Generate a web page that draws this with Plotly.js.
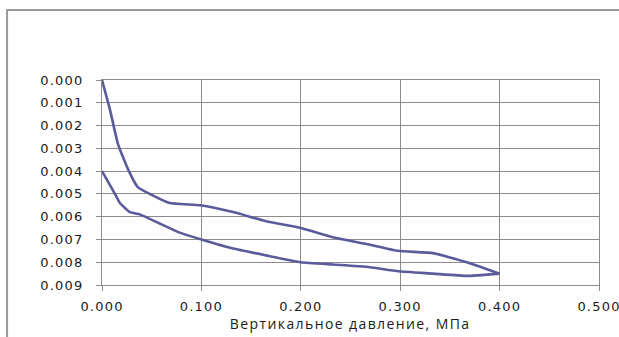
<!DOCTYPE html>
<html>
<head>
<meta charset="utf-8">
<script src="https://cdn.plot.ly/plotly-3.0.1.min.js"></script>
<style>
html,body{margin:0;padding:0;background:#fff;}
#chart{width:619px;height:337px;}
#chart .xtick text, #chart .ytick text{letter-spacing:1.2px;}
#chart .annotation-text{letter-spacing:1.4px;}
</style>
</head>
<body>
<div id="chart"></div>
<script>
// Loading branch: pressure (MPa) vs settlement
const loadPressure = [0.000, 0.008, 0.016, 0.026, 0.036, 0.048, 0.068, 0.099, 0.132, 0.165, 0.200, 0.232, 0.266, 0.298, 0.333, 0.367, 0.400];
const loadStrain   = [0.0000, 0.0013, 0.0028, 0.0039, 0.0047, 0.0050, 0.0054, 0.0055, 0.0058, 0.0062, 0.0065, 0.0069, 0.0072, 0.0075, 0.0076, 0.0080, 0.0085];
// Unloading branch
const unloadPressure = [0.400, 0.367, 0.333, 0.298, 0.266, 0.232, 0.200, 0.165, 0.132, 0.100, 0.078, 0.058, 0.038, 0.028, 0.018, 0.013, 0.000];
const unloadStrain   = [0.0085, 0.0086, 0.0085, 0.0084, 0.0082, 0.0081, 0.0080, 0.0077, 0.0074, 0.0070, 0.0067, 0.0063, 0.0059, 0.0058, 0.0054, 0.0050, 0.0040];
const xTicks = [0, 0.1, 0.2, 0.3, 0.4, 0.5];
const yTicks = [0, 0.001, 0.002, 0.003, 0.004, 0.005, 0.006, 0.007, 0.008, 0.009];
const xTitle = 'Вертикальное давление, МПа';

const lineColor = '#5b5b9b';
const traces = [
  {x: loadPressure, y: loadStrain, mode: 'lines', line: {color: lineColor, width: 2.6, shape: 'spline', smoothing: 0.4}, hoverinfo: 'none'},
  {x: unloadPressure, y: unloadStrain, mode: 'lines', line: {color: lineColor, width: 2.6, shape: 'spline', smoothing: 0.4}, hoverinfo: 'none'}
];

const tickFont = {family: 'DejaVu Sans, Verdana, sans-serif', size: 13, color: '#1a1a1a'};
const layout = {
  width: 619, height: 337,
  margin: {l: 102, r: 20, t: 80, b: 52, pad: 0},
  paper_bgcolor: '#ffffff', plot_bgcolor: '#ffffff',
  showlegend: false,
  font: tickFont,
  xaxis: {
    range: [0, 0.5], tickvals: xTicks, tickformat: '.3f',
    showgrid: true, gridcolor: '#8c8c8c', gridwidth: 1,
    showline: true, linecolor: '#8c8c8c', linewidth: 1, mirror: true,
    ticks: 'outside', ticklen: 5, tickcolor: '#8c8c8c',
    ticklabelstandoff: 4,
    zeroline: false,
    tickfont: tickFont
  },
  yaxis: {
    range: [0.009, 0], tickvals: yTicks, tickformat: '.3f',
    showgrid: true, gridcolor: '#8c8c8c', gridwidth: 1,
    showline: true, linecolor: '#8c8c8c', linewidth: 1, mirror: true,
    ticks: 'outside', ticklen: 5, tickcolor: '#8c8c8c',
    ticklabelstandoff: 10,
    zeroline: false,
    tickfont: tickFont
  },
  annotations: [
    {text: xTitle, xref: 'paper', yref: 'paper', x: 0.499, y: -0.188, xanchor: 'center', yanchor: 'middle',
     showarrow: false, font: {family: 'Open Sans, Liberation Sans, sans-serif', size: 14, color: '#1a1a1a'}}
  ],
  shapes: [
    {type: 'rect', xref: 'paper', yref: 'paper', x0: -0.191, x1: 1.06, y0: -0.3, y1: 1.3415,
     line: {color: '#999999', width: 2}, fillcolor: 'rgba(0,0,0,0)', layer: 'below'}
  ]
};

Plotly.newPlot('chart', traces, layout, {staticPlot: true, displayModeBar: false});
</script>
</body>
</html>
